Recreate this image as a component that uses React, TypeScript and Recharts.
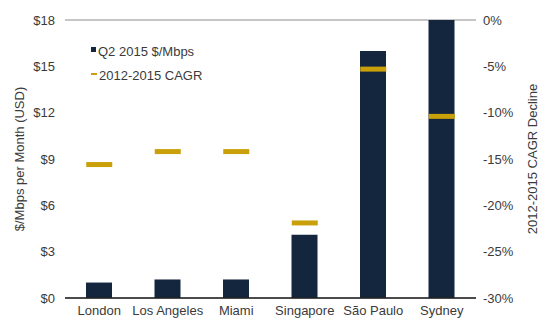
import { Bar, CartesianGrid, ComposedChart, Label, Line, XAxis, YAxis } from "recharts";

const cities = ["London", "Los Angeles", "Miami", "Singapore", "São Paulo", "Sydney"];
const pricePerMbps = [1.0, 1.2, 1.2, 4.1, 16.0, 18.0];
const cagrDecline = [-15.6, -14.2, -14.2, -21.9, -5.3, -10.4];
const priceTicks = [0, 3, 6, 9, 12, 15, 18];
const cagrTicks = [-30, -25, -20, -15, -10, -5, 0];

const data = cities.map((city, i) => ({
	city,
	price: pricePerMbps[i],
	cagr: cagrDecline[i],
}));

const NAVY = "#13263e";
const GOLD = "#c9a00a";
const FONT = "'Liberation Sans', Arial, sans-serif";
const TEXT = "#3a3a3a";

const Dash = (props: any) => {
	const { cx, cy } = props;
	if (cx == null || cy == null) return null;
	return <rect x={cx - 13} y={cy - 2.5} width={26} height={5} fill={GOLD} />;
};

// legend sits over the plot with a white box hiding the gridline behind it
const LegendBox = () => (
	<div
		style={{
			position: "absolute",
			left: 83,
			top: 40,
			width: 120,
			height: 46,
			background: "#fff",
			paddingLeft: 8,
			boxSizing: "border-box",
			fontFamily: FONT,
			fontSize: 13,
			color: TEXT,
			lineHeight: "24px",
		}}
	>
		<div style={{ display: "flex", alignItems: "center" }}>
			<span style={{ width: 5, height: 5, background: NAVY, marginRight: 2, marginTop: -6 }} />
			Q2 2015 $/Mbps
		</div>
		<div style={{ display: "flex", alignItems: "center" }}>
			<span style={{ width: 6, height: 2, background: GOLD, marginRight: 2, marginTop: -4 }} />
			2012-2015 CAGR
		</div>
	</div>
);

export default function App() {
	return (
		<div style={{ position: "absolute", left: 0, top: 0, width: 550, height: 330 }}>
			<ComposedChart
				width={550}
				height={330}
				data={data}
				margin={{ top: 20, right: 0, bottom: 0, left: 0 }}
			>
				<CartesianGrid vertical={false} stroke="#b3b3b3" strokeWidth={1.5} />
				<XAxis
					dataKey="city"
					height={32}
					axisLine={{ stroke: "#222", strokeWidth: 1.5 }}
					tickLine={false}
					tickMargin={2}
					tick={{ fill: TEXT, fontSize: 13, fontFamily: FONT }}
					interval={0}
				/>
				<YAxis
					yAxisId="left"
					width={65}
					domain={[0, 18]}
					ticks={priceTicks}
					axisLine={false}
					tickLine={false}
					tickMargin={4}
					tickFormatter={(v) => `$${v}`}
					tick={{ fill: TEXT, fontSize: 13, fontFamily: FONT }}
				>
					<Label
						value="$/Mbps per Month (USD)"
						angle={-90}
						position="insideLeft"
						offset={19}
						style={{ textAnchor: "middle", fill: TEXT, fontSize: 13, fontFamily: FONT }}
					/>
				</YAxis>
				<YAxis
					yAxisId="right"
					orientation="right"
					width={74}
					domain={[-30, 0]}
					ticks={cagrTicks}
					axisLine={false}
					tickLine={false}
					tickMargin={1}
					tickFormatter={(v) => `${v}%`}
					tick={{ fill: TEXT, fontSize: 13, fontFamily: FONT }}
				>
					<Label
						value="2012-2015 CAGR Decline"
						angle={-90}
						position="insideRight"
						offset={18}
						style={{ textAnchor: "middle", fill: TEXT, fontSize: 13, fontFamily: FONT }}
					/>
				</YAxis>
				<Bar
					yAxisId="left"
					dataKey="price"
					fill={NAVY}
					barSize={26}
					isAnimationActive={false}
				/>
				<Line
					yAxisId="right"
					dataKey="cagr"
					stroke="none"
					dot={<Dash />}
					activeDot={false}
					isAnimationActive={false}
				/>
			</ComposedChart>
			<LegendBox />
		</div>
	);
}
